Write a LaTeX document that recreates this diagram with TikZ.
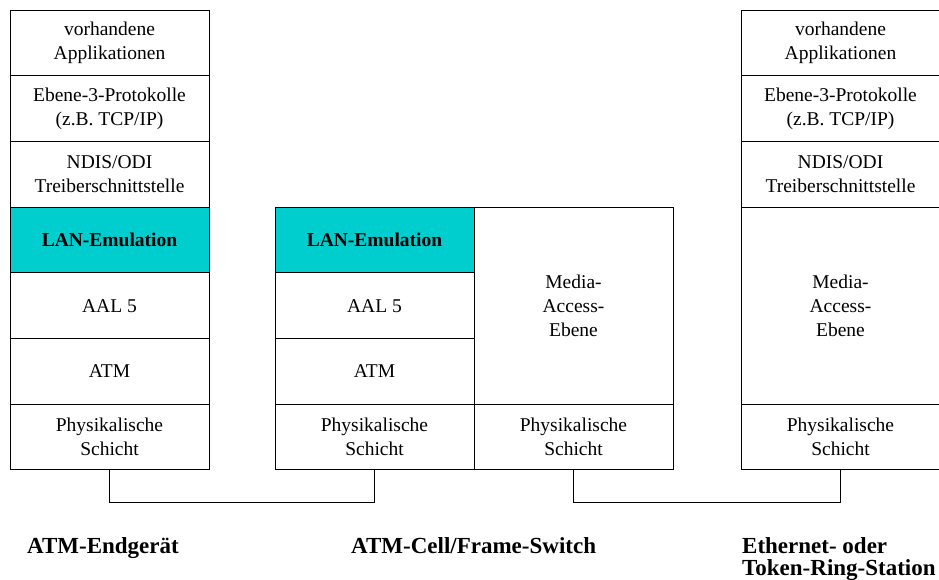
\documentclass[tikz,border=0pt]{standalone}
\usepackage{fontspec}
\setmainfont{Liberation Serif}
\usepackage{xcolor}
\usepackage{tikz}
\usetikzlibrary{positioning}
\definecolor{lanecyan}{RGB}{0,206,206}

\begin{document}
\begin{tikzpicture}[x=1pt, y=-1pt,
  layer/.style={draw, line width=1pt, align=center, inner sep=0pt, outer sep=0pt,
                minimum width=199pt, minimum height=65.71pt,
                font=\fontsize{19.5}{24}\selectfont},
  lane/.style={layer, fill=lanecyan, font=\fontsize{19.5}{24}\selectfont\bfseries},
  mac/.style={layer, minimum height=197.14pt},
  devlabel/.style={anchor=north west, inner sep=0pt, align=left,
                   font=\fontsize{23}{22}\selectfont\bfseries},
  link/.style={line width=1pt}]
\useasboundingbox (0,0) rectangle (939,580);
% ATM-Endgeraet
\node[layer] (lapp)  at (109.5,42.86)  {vorhandene\\Applikationen};
\node[layer] (lprot) at (109.5,108.57) {Ebene-3-Protokolle\\(z.B. TCP/IP)};
\node[layer] (lndis) at (109.5,174.29) {NDIS/ODI\\Treiberschnittstelle};
\node[lane]  (llane) at (109.5,240)    {LAN-Emulation};
\node[layer] (laal)  at (109.5,305.71) {AAL 5};
\node[layer] (latm)  at (109.5,371.43) {ATM};
\node[layer] (lphy)  at (109.5,437.14) {Physikalische\\Schicht};
% Switch
\node[lane]  (mlane) at (374.5,240)    {LAN-Emulation};
\node[layer] (maal)  at (374.5,305.71) {AAL 5};
\node[layer] (matm)  at (374.5,371.43) {ATM};
\node[layer] (mphya) at (374.5,437.14) {Physikalische\\Schicht};
\node[mac]   (mmac)  at (573.5,305.71) {Media-\\Access-\\Ebene};
\node[layer] (mphyb) at (573.5,437.14) {Physikalische\\Schicht};
% Ethernet / Token-Ring
\node[layer] (rapp)  at (840.5,42.86)  {vorhandene\\Applikationen};
\node[layer] (rprot) at (840.5,108.57) {Ebene-3-Protokolle\\(z.B. TCP/IP)};
\node[layer] (rndis) at (840.5,174.29) {NDIS/ODI\\Treiberschnittstelle};
\node[mac]   (rmac)  at (840.5,305.71) {Media-\\Access-\\Ebene};
\node[layer] (rphy)  at (840.5,437.14) {Physikalische\\Schicht};
% Leitungen
\draw[link] (lphy.south) -- ++(0,33) -| (mphya.south);
\draw[link] (mphyb.south) -- ++(0,33) -| (rphy.south);
% Beschriftung
\node[devlabel] (lname) at (27,537)  {ATM-Endger\"at};
\node[devlabel] (mname) at (351,537) {ATM-Cell/Frame-Switch};
\node[devlabel] (rname) at (742,537) {Ethernet- oder\\Token-Ring-Station};
\end{tikzpicture}
\end{document}
